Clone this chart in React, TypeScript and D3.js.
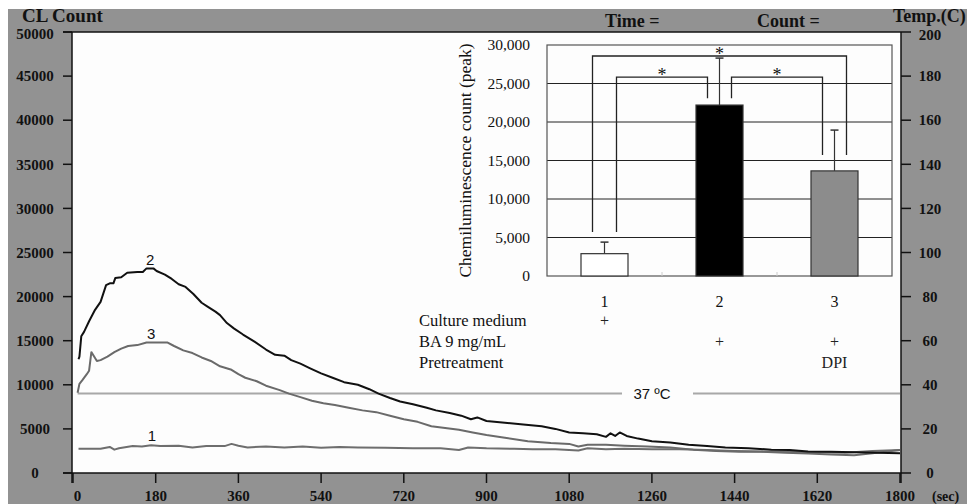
import React, { useRef, useEffect } from 'react';
import * as d3 from 'd3';

// time (sec), CL count
const curve2: [number, number][] = [
  [12, 12900], [14, 13200], [18, 15500], [24, 16000], [35, 17200], [48, 18500], [60, 19400], [72, 21300],
  [80, 21500], [88, 21500], [92, 22100], [105, 22200], [118, 22700], [140, 22800], [152, 22800], [160, 23200],
  [175, 23200], [182, 22900], [200, 22500], [215, 22000], [230, 21400], [245, 21100], [262, 20300], [280, 19300],
  [292, 18900], [310, 18300], [320, 17900], [335, 17000], [350, 16400], [370, 15700], [395, 14900], [420, 14000],
  [440, 13400], [460, 13300], [475, 12800], [495, 12400], [515, 11900], [540, 11300], [565, 10800], [590, 10300],
  [620, 10000], [645, 9500], [665, 9000], [690, 8500], [712, 8100], [740, 7800], [770, 7400], [790, 7100],
  [820, 6800], [845, 6500], [866, 6100], [880, 6300], [900, 5900], [940, 5700], [980, 5500], [1020, 5300],
  [1050, 5000], [1080, 4600], [1110, 4500], [1140, 4400], [1160, 4100], [1170, 4500], [1180, 4200], [1190, 4600],
  [1205, 4200], [1230, 3900], [1260, 3600], [1300, 3450], [1340, 3200], [1380, 3050], [1420, 2900], [1470, 2800],
  [1520, 2650], [1560, 2600], [1600, 2450], [1650, 2400], [1700, 2350], [1750, 2300], [1800, 2250],
];

const curve3: [number, number][] = [
  [10, 9100], [14, 10100], [20, 10500], [30, 11200], [35, 11600], [40, 13700], [45, 13300], [52, 12700],
  [60, 12800], [75, 13200], [90, 13700], [105, 14100], [120, 14400], [140, 14500], [160, 14800], [180, 14800],
  [205, 14800], [220, 14400], [240, 13900], [260, 13600], [280, 13100], [300, 12700], [320, 12100], [345, 11700],
  [360, 11200], [375, 10800], [400, 10400], [420, 9900], [450, 9400], [470, 9000], [495, 8600], [520, 8200],
  [545, 7900], [570, 7700], [600, 7400], [630, 7100], [660, 6900], [690, 6500], [720, 6100], [750, 5800],
  [780, 5300], [810, 5100], [840, 4900], [870, 4600], [900, 4300], [940, 4000], [990, 3600], [1040, 3400],
  [1080, 3300], [1100, 3000], [1120, 3200], [1160, 3200], [1200, 3100], [1250, 3000], [1300, 2900], [1350, 2650],
  [1400, 2500], [1450, 2400], [1500, 2400], [1550, 2300], [1600, 2200], [1650, 2100], [1700, 2000], [1750, 2300],
  [1800, 2600],
];

const curve1: [number, number][] = [
  [12, 2750], [60, 2750], [80, 2950], [90, 2650], [100, 2800], [130, 3050], [150, 3000], [170, 3150],
  [190, 3050], [230, 3100], [260, 2900], [290, 3050], [330, 3050], [345, 3300], [360, 3100], [380, 2900],
  [420, 3000], [460, 2900], [500, 3000], [540, 2850], [580, 2950], [620, 2900], [680, 2850], [740, 2800],
  [800, 2800], [840, 2600], [860, 2900], [900, 2800], [960, 2750], [1000, 2700], [1050, 2700], [1100, 2550],
  [1120, 2800], [1160, 2700], [1200, 2750], [1260, 2700], [1320, 2700], [1380, 2600], [1440, 2500], [1500, 2450],
  [1560, 2400], [1620, 2350], [1680, 2300], [1740, 2500], [1800, 2600],
];

// time (sec), temperature (C)
const tempLine: [number, number][] = [[10, 36], [1800, 36]];

const countTicks = [0, 5000, 10000, 15000, 20000, 25000, 30000, 35000, 40000, 45000, 50000];
const tempTicks = [0, 20, 40, 60, 80, 100, 120, 140, 160, 180, 200];
const timeTicks = [0, 180, 360, 540, 720, 900, 1080, 1260, 1440, 1620, 1800];

// inset bar chart
const groups = ['1', '2', '3'];
const peakMeans = [2900, 22200, 13650];
const peakErrors = [1500, 6100, 5300];
const insetTicks = [0, 5000, 10000, 15000, 20000, 25000, 30000];
const rowLabels = ['Culture medium', 'BA 9 mg/mL', 'Pretreatment'];
const rowMarks = [['+', '', ''], ['', '+', '+'], ['', '', 'DPI']];
// [from group, to group, top level, left foot, right foot]
const brackets: [number, number, number, number, number][] = [
  [0, 2, 28570, 5700, 15700],
  [0, 1, 25840, 5700, 23100],
  [1, 2, 25840, 23100, 15700],
];

const SERIF = '"Liberation Serif", "DejaVu Serif", serif';
const SANS = '"Liberation Sans", Arial, sans-serif';

const App = () => {
  const svgRef = useRef(null);

  useEffect(() => {
    const svg = d3.select(svgRef.current);
    svg.selectAll('*').remove();

    svg.append('rect').attr('x', 8).attr('y', 9).attr('width', 959).attr('height', 495).attr('fill', '#929292');

    const plot = { left: 72, right: 901, top: 32, bottom: 473 };
    svg.append('rect')
      .attr('x', plot.left).attr('y', plot.top)
      .attr('width', plot.right - plot.left).attr('height', plot.bottom - plot.top)
      .attr('fill', '#fdfdfd');

    const x = d3.scaleLinear().domain([0, 1800]).range([73, 900]);
    const y = d3.scaleLinear().domain([0, 50000]).range([plot.bottom, plot.top]);
    const yT = d3.scaleLinear().domain([0, 200]).range([plot.bottom, plot.top]);

    // axes
    const axisCol = '#111';
    svg.append('line').attr('x1', 63).attr('x2', plot.right).attr('y1', plot.top).attr('y2', plot.top)
      .attr('stroke', axisCol).attr('stroke-width', 1.5);
    svg.append('line').attr('x1', 63).attr('x2', plot.right).attr('y1', plot.bottom).attr('y2', plot.bottom)
      .attr('stroke', axisCol).attr('stroke-width', 1.5);
    svg.append('line').attr('x1', plot.left).attr('x2', plot.left).attr('y1', plot.top).attr('y2', 483)
      .attr('stroke', axisCol).attr('stroke-width', 1.5);
    svg.append('line').attr('x1', plot.right).attr('x2', plot.right).attr('y1', plot.top).attr('y2', 483)
      .attr('stroke', axisCol).attr('stroke-width', 1.5);

    const left = svg.append('g');
    left.selectAll('line').data(countTicks).enter().append('line')
      .attr('x1', 63).attr('x2', plot.left).attr('y1', d => y(d)).attr('y2', d => y(d))
      .attr('stroke', axisCol).attr('stroke-width', 1.5);
    left.selectAll('text').data(countTicks).enter().append('text')
      .attr('x', 35).attr('y', d => y(d) + (d === 50000 ? 2 : 0)).attr('dy', '0.35em')
      .attr('text-anchor', 'middle').style('font-family', SERIF).style('font-weight', 'bold').style('font-size', '15px')
      .attr('fill', '#111').text(d => d);

    const right = svg.append('g');
    right.selectAll('line').data(tempTicks).enter().append('line')
      .attr('x1', plot.right).attr('x2', 911).attr('y1', d => yT(d)).attr('y2', d => yT(d))
      .attr('stroke', axisCol).attr('stroke-width', 1.5);
    right.selectAll('text').data(tempTicks).enter().append('text')
      .attr('x', 930).attr('y', d => yT(d)).attr('dy', d => d === 200 ? '0.5em' : '0.35em')
      .attr('text-anchor', 'middle').style('font-family', SERIF).style('font-weight', 'bold').style('font-size', '15px')
      .attr('fill', '#111').text(d => d);

    const bottom = svg.append('g');
    bottom.selectAll('line').data(timeTicks).enter().append('line')
      .attr('x1', d => x(d)).attr('x2', d => x(d)).attr('y1', plot.bottom).attr('y2', 483)
      .attr('stroke', axisCol).attr('stroke-width', 1.5);
    bottom.selectAll('text').data(timeTicks).enter().append('text')
      .attr('x', d => x(d) + (d === 0 ? 4.5 : 0)).attr('y', 501)
      .attr('text-anchor', 'middle').style('font-family', SERIF).style('font-weight', 'bold').style('font-size', '15px')
      .attr('fill', '#111').text(d => d);
    svg.append('text').attr('x', 932).attr('y', 501).style('font-family', SERIF).style('font-weight', 'bold')
      .style('font-size', '14px').attr('fill', '#111').text('(sec)');

    // header
    const header = [
      { t: 'CL Count', x: 22, y: 22, s: 19 },
      { t: 'Time =', x: 605, y: 27, s: 18 },
      { t: 'Count =', x: 757, y: 27, s: 18 },
      { t: 'Temp.(C)', x: 893, y: 22, s: 18 },
    ];
    svg.selectAll('.hdr').data(header).enter().append('text')
      .attr('class', 'hdr').attr('x', d => d.x).attr('y', d => d.y)
      .style('font-family', SERIF).style('font-weight', 'bold').style('font-size', d => `${d.s}px`)
      .attr('fill', '#111').text(d => d.t);

    // curves
    const line = d3.line<[number, number]>().x(d => x(d[0])).y(d => y(d[1]));
    const lineT = d3.line<[number, number]>().x(d => x(d[0])).y(d => yT(d[1]));

    svg.append('path').datum(tempLine).attr('d', lineT).attr('fill', 'none')
      .attr('stroke', '#a8a8a8').attr('stroke-width', 2);
    svg.append('rect').attr('x', 622).attr('y', yT(36) - 12).attr('width', 71).attr('height', 24).attr('fill', '#fdfdfd');
    svg.append('text').attr('x', 652).attr('y', yT(36)).attr('dy', '0.36em').attr('text-anchor', 'middle')
      .style('font-family', SANS).style('font-size', '15px').attr('fill', '#111').text('37 ºC');

    [
      { data: curve1, color: '#6e6e6e', label: '1', at: [172, 4200] },
      { data: curve3, color: '#6a6a6a', label: '3', at: [170, 15800] },
      { data: curve2, color: '#111111', label: '2', at: [168, 24200] },
    ].forEach(c => {
      svg.append('path').datum(c.data).attr('d', line).attr('fill', 'none')
        .attr('stroke', c.color).attr('stroke-width', 2).attr('stroke-linejoin', 'round');
      svg.append('text').attr('x', x(c.at[0])).attr('y', y(c.at[1])).attr('dy', '0.35em')
        .attr('text-anchor', 'middle').style('font-family', SANS).style('font-size', '15px').attr('fill', '#111')
        .text(c.label);
    });

    // inset bar chart
    const ix = d3.scaleBand().domain(groups).range([547, 892]);
    const iy = d3.scaleLinear().domain([0, 30000]).range([276, 45]);
    const inset = svg.append('g');
    const bw = 47;
    const cx = (i: number) => ix(groups[i])! + ix.bandwidth() / 2;

    inset.selectAll('.grid').data(insetTicks.slice(1, -1)).enter().append('line')
      .attr('x1', 547).attr('x2', 892).attr('y1', d => iy(d)).attr('y2', d => iy(d))
      .attr('stroke', '#222').attr('stroke-width', 1);
    inset.append('rect').attr('x', 547).attr('y', iy(30000)).attr('width', 345).attr('height', iy(0) - iy(30000))
      .attr('fill', 'none').attr('stroke', '#555').attr('stroke-width', 1.2);
    inset.selectAll('.sep').data(groups.slice(1)).enter().append('line')
      .attr('x1', d => ix(d)!).attr('x2', d => ix(d)!).attr('y1', 276).attr('y2', 272)
      .attr('stroke', '#ccc');
    inset.selectAll('.ytxt').data(insetTicks).enter().append('text')
      .attr('x', 530).attr('y', d => iy(d)).attr('dy', '0.35em').attr('text-anchor', 'end')
      .style('font-family', SERIF).style('font-size', '15.5px').attr('fill', '#111').text(d => d3.format(',')(d));
    inset.append('text').attr('transform', `translate(471, ${(iy(0) + iy(30000)) / 2}) rotate(-90)`)
      .attr('text-anchor', 'middle').style('font-family', SERIF).style('font-size', '17.5px').attr('fill', '#111')
      .text('Chemiluminescence count (peak)');

    const fills = ['#ffffff', '#000000', '#8c8c8c'];
    groups.forEach((g, i) => {
      const c = cx(i);
      inset.append('line').attr('x1', c).attr('x2', c).attr('y1', iy(peakMeans[i])).attr('y2', iy(peakMeans[i] + peakErrors[i]))
        .attr('stroke', '#333').attr('stroke-width', 1.2);
      inset.append('line').attr('x1', c - 4).attr('x2', c + 4)
        .attr('y1', iy(peakMeans[i] + peakErrors[i])).attr('y2', iy(peakMeans[i] + peakErrors[i]))
        .attr('stroke', '#333').attr('stroke-width', 1.5);
      inset.append('rect').attr('x', c - bw / 2).attr('y', iy(peakMeans[i]))
        .attr('width', bw).attr('height', iy(0) - iy(peakMeans[i]))
        .attr('fill', fills[i]).attr('stroke', '#333').attr('stroke-width', 1.2);
      inset.append('text').attr('x', c).attr('y', 301).attr('dy', '0.35em').attr('text-anchor', 'middle')
        .style('font-family', SERIF).style('font-size', '16px').attr('fill', '#111').text(g);
    });

    brackets.forEach(([a, b, top, fa, fb]) => {
      const x1 = cx(a) + (a === 0 && b === 2 ? -12 : 12);
      const x2 = cx(b) + (a === 0 && b === 2 ? 12 : -12);
      inset.append('path')
        .attr('d', `M${x1},${iy(fa)}V${iy(top)}H${x2}V${iy(fb)}`)
        .attr('fill', 'none').attr('stroke', '#222').attr('stroke-width', 1.3);
      inset.append('text').attr('x', (x1 + x2) / 2).attr('y', iy(top) + 4).attr('text-anchor', 'middle')
        .style('font-family', SERIF).style('font-size', '18px').attr('fill', '#111').text('*');
    });

    rowLabels.forEach((r, j) => {
      const ry = 320 + j * 21;
      svg.append('text').attr('x', 419).attr('y', ry).attr('dy', '0.35em')
        .style('font-family', SERIF).style('font-size', '16.5px').attr('fill', '#111').text(r);
      rowMarks[j].forEach((m, i) => {
        if (!m) return;
        svg.append('text').attr('x', cx(i)).attr('y', ry).attr('dy', '0.35em').attr('text-anchor', 'middle')
          .style('font-family', SERIF).style('font-size', '16px').attr('fill', '#222').text(m);
      });
    });
  }, []);

  return (
    <svg ref={svgRef} width={967} height={504}
      style={{ position: 'absolute', left: 0, top: 0, background: '#fff' }}></svg>
  );
};

export default App;
